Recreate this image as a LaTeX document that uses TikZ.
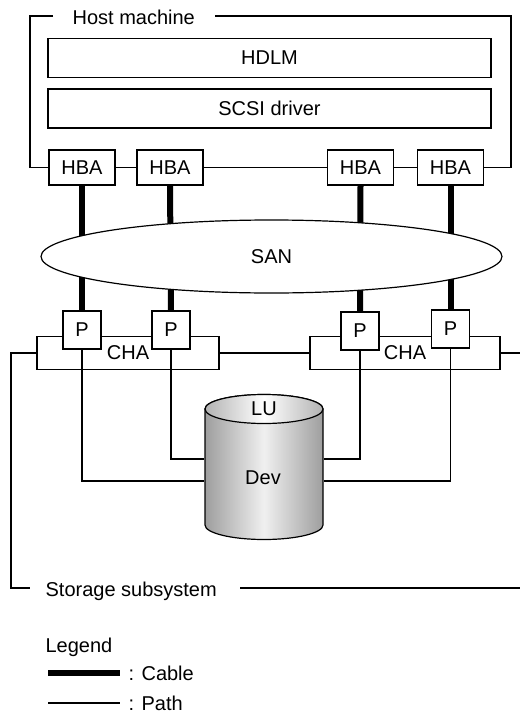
\documentclass[tikz,border=0pt]{standalone}
\usepackage{fontspec}
\setmainfont{Liberation Sans}
\usetikzlibrary{shapes.geometric}
\begin{document}
\begin{tikzpicture}[x=1pt,y=-1pt,line width=1.2pt,
  font=\fontsize{20}{24}\selectfont,
  box/.style={draw,rectangle,inner sep=0pt,fill=white},
  layerbox/.style={box,minimum width=443pt,minimum height=39pt},
  hba/.style={box,minimum width=66pt,minimum height=35pt},
  port/.style={box,minimum width=38pt,minimum height=38pt},
  cha/.style={draw,rectangle,inner sep=0pt,minimum height=33pt},
  cable/.style={line width=6pt},
  pathline/.style={line width=1.2pt},
  lbl/.style={inner sep=0pt,anchor=base west}]
\useasboundingbox (0,0) rectangle (520,720);

% host machine
\node[layerbox] (hdlm) at (269.5,57.8) {HDLM};
\node[layerbox] (scsi) at (269.5,108.5) {SCSI driver};
\node[hba] (h1) at (82,167.5) {HBA};
\node[hba] (h2) at (170,167.5) {HBA};
\node[hba] (h3) at (360.5,167.5) {HBA};
\node[hba] (h4) at (450.5,167.5) {HBA};
\node[lbl] (hostlbl) at (72,24) {Host machine};
\coordinate (hTL) at (30,16);
\coordinate (hTLe) at (53,16);
\coordinate (hTR) at (511,16);
\coordinate (hTRs) at (215,16);
\draw (hTLe) -- (hTL) |- (h1.west);
\draw (hTRs) -- (hTR) |- (h4.east);
\draw (h1.east) -- (h2.west);
\draw (h2.east) -- (h3.west);
\draw (h3.east) -- (h4.east -| h4.west);

% storage
\node[cha,minimum width=182pt] (cha1) at (128,353) {CHA};
\node[cha,minimum width=190pt] (cha2) at (405,353) {CHA};
\node[port] (p1) at (82,330) {P};
\node[port] (p2) at (171,330) {P};
\node[port] (p3) at (360,331) {P};
\node[port] (p4) at (450.5,329) {P};

% cables
\draw[cable] (h1.south) -- (p1.north);
\draw[cable] (h2.south) -- (p2.north);
\draw[cable] (h3.south) -- (p3.north);
\draw[cable] (h4.south) -- (p4.north);
\node[draw,ellipse,fill=white,inner sep=0pt,minimum width=461pt,minimum height=73pt] (san) at (271.5,256.5) {SAN};

% storage frame
\coordinate (sTL) at (11,353);
\coordinate (sBL) at (11,588);
\coordinate (sBLe) at (30,588);
\coordinate (sBRs) at (240,588);
\coordinate (sBR) at (520,588);
\coordinate (sR) at (520,353);
\draw (cha1.west) -- (sTL) -- (sBL) -- (sBLe);
\draw (sBRs) -- (sBR);
\draw (cha1.east) -- (cha2.west);
\draw (cha2.east) -- (sR);
\node[lbl] (stlbl) at (45,596) {Storage subsystem};

% LU cylinder
\node[inner sep=0pt,minimum width=118pt,minimum height=144pt] (dev) at (264,467) {};
\shade[left color=black!38,right color=black!38,middle color=black!6,draw=black,line width=1.2pt]
  (205,409) -- (205,525) arc[start angle=180,end angle=360,x radius=59pt,y radius=14.5pt]
  -- (323,409) arc[start angle=0,end angle=180,x radius=59pt,y radius=14.5pt] -- cycle;
\shade[left color=black!30,right color=black!30,middle color=white,draw=black,line width=1.2pt]
  (264,409) ellipse[x radius=59pt,y radius=14.5pt];
\node[inner sep=0pt] (lu) at (264,409) {LU};
\node[inner sep=0pt] (devlbl) at (263,478) {Dev};

% paths
\draw[pathline] (p1.south) |- ([yshift=-14pt]dev.west);
\draw[pathline] (p2.south) |- ([yshift=8pt]dev.west);
\draw[pathline] (p3.south) |- ([yshift=8pt]dev.east);
\draw[pathline] (p4.south) |- ([yshift=-14pt]dev.east);

% legend
\node[lbl] (leg) at (45,652) {Legend};
\coordinate (c1) at (48,673);
\coordinate (c2) at (120,673);
\coordinate (l1) at (48,703);
\coordinate (l2) at (120,703);
\draw[cable] (c1) -- (c2);
\draw[pathline] (l1) -- (l2);
\node[lbl] (legc) at (128,680) {: Cable};
\node[lbl] (legp) at (128,710) {: Path};
\end{tikzpicture}
\end{document}
